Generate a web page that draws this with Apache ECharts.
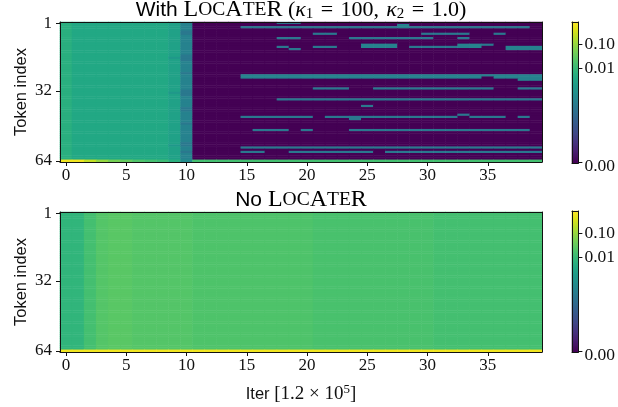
<!DOCTYPE html>
<html><head><meta charset="utf-8">
<script src="https://cdn.jsdelivr.net/npm/echarts@6/dist/echarts.min.js"></script>
<style>html,body{margin:0;padding:0;background:#fff}#c{width:618px;height:407px}</style>
</head><body><div id="c"></div>
<script>
// ---------- data ----------
const iterCats = ['0','1','2','3','4','5','6','7','8','9','10','11','12','13','14','15','16','17','18','19',
  '20','21','22','23','24','25','26','27','28','29','30','31','32','33','34','35','36','37','38','39'];
const xTickLabels = ['0','5','10','15','20','25','30','35'];
const tokenCats = []; for (let i = 1; i <= 64; i++) tokenCats.push(String(i));
const yTickLabels = ['1','32','64'];
const cbTickValues = [0, 0.01, 0.1];
const cbTickLabels = ['0.00','0.01','0.10'];

// level codes: '0' = 0, otherwise value of the level
const levelCodes  = ['a','b','c','d','e','f','g','h','i','j','k','K','l','L','m','n','o','p','q','r'];
const levelValues = [0.00013,0.00026,0.00045,0.00077,0.0015,0.0026,0.0039,0.0058,0.0081,0.0114,0.015,0.0171,0.0195,0.0223,0.0255,0.033,0.05,0.098,0.25,0.65];

// With LocAteR: one string per token row (cols 0..39), trailing zeros omitted
const topRows = [
"hggggggggfc0000000bb",
"hggggggggfc00000000000000000c",
"hggggggggfc0000bbbbbbbbbbbbbcbbbbbbbbbb",
"hggggggggfc",
"hggggggggfb",
"hggggggggfb0000000000bb0000000bbbb00b",
"hggggggggfc",
"hggggggggfc0000000bb0000bbbbbbb00b",
"hggggggggfc",
"hggggggggfc",
"hggggggggfc00000000000000ccc00000ccb",
"hggggggggfc0000000b00bb00ccc0bbbbcc00ccc",
"hggggggggfc00000000b00000000000000000ccc",
"hggggggggfc",
"hggggggggfc",
"hggggggggfb",
"hggggggggeb",
"hggggggggfb",
"hggggggggfc",
"hggggggggfc",
"hggggggggfc",
"hggggggggfc",
"hggggggggfc",
"hggggggggfb",
"hggggggggfc0000ccccccccccccccccccccccccccc",
"hggggggggfc0000cccccccccccccccccccc0cccccc",
"hggggggggfc000000000000000000000000000cccc",
"hggggggggfc",
"hggggggggfc",
"hggggggggfc",
"hggggggggfc0000000000bbb00bbbbbbbbbb00bbbb",
"hggggggggfb",
"hggggggggeb",
"hggggggggfb",
"hggggggggfc",
"hggggggggfc0000000bbbbbbbbbbbbbbbbbbbbbbbbbb",
"hggggggggfc",
"hggggggggfc",
"hggggggggfc00000000000000b",
"hggggggggfb",
"hggggggggfb",
"hggggggggfc",
"hggggggggfc0000000000000000000000b",
"hggggggggfc0000bbbbbb0bbbbbbbbbbb0bbb0b",
"hggggggggfc0000000000000b",
"hggggggggfc",
"hggggggggfb",
"hggggggggfc",
"hggggggggfc",
"hggggggggfc00000bbb0b000bbbbbbbbbbbbbbb",
"hggggggggfc",
"hggggggggfc",
"hggggggggfc",
"hggggggggfc",
"hggggggggfc",
"hggggggggfb",
"hggggggggeb",
"hggggggggfc0000bbbbbbbbbbbbbbbbbbbbbbbbbbbbb",
"hggggggggfc",
"hggggggggfb0000bb00bbbbbbb0bbbbbbbbbbbbbbbb",
"hggggggggfc",
"hggggggggfc",
"hggggggggfc",
"rrqponlkjhdkkkkkkkkkkkkkkkkkkkkkkkkkkkkkkkk"
];

// No LocAteR: rows 1..63 read as the same profile, row 64 bright
const bottomRows = [];
const bottomProfile = "iikLmmLLLLLllllllllllKKKKKKKKKKkkkkkkkkk";
const bottomLastRow = "rrrrrrrrrrrrrrrrrrrrrrrrrrrrrrrrrrrrrrrr";
for (let r = 0; r < 63; r++) bottomRows.push(bottomProfile);
bottomRows.push(bottomLastRow);

// ---------- colour norm (symlog-like) ----------
const LT = 1.55e-5, LINP = 0.19, DEC = 0.171;
function norm(v) {
  if (v <= 0) return 0;
  const p = v < LT ? LINP * v / LT : LINP + DEC * Math.log10(v / LT);
  return Math.min(1, p);
}
function codeValue(ch) {
  const k = levelCodes.indexOf(ch);
  return k < 0 ? 0 : levelValues[k];
}
function build(rows) {
  const out = [];
  rows.forEach((s, r) => {
    const full = s.padEnd(iterCats.length, '0');
    for (let c = 0; c < iterCats.length; c++) {
      const v = codeValue(full[c]);
      out.push([c, r, norm(v), v]);
    }
  });
  return out;
}
const topData = build(topRows);
const bottomData = build(bottomRows);

const cbN = 141;
const cbCats = []; const cbData = [];
for (let i = 0; i < cbN; i++) { cbCats.push(String(i)); cbData.push([0, i, (i + 0.5) / cbN]); }
const cbTickIdx = cbTickValues.map(v => Math.min(cbN - 1, Math.floor(norm(v) * cbN)));

const viridis = ['#440154','#471365','#482475','#463480','#414487','#3b528b','#355f8d','#2f6c8e','#2a788e','#25848e',
  '#21918c','#1e9c89','#22a884','#2fb47c','#44bf70','#5ec962','#7ad151','#9bd93c','#bddf26','#dfe318','#fde725'];

// ---------- styles ----------
const SERIF = 'Liberation Serif';
const SANS = 'Liberation Sans';
const INK = '#111';
const lineS = { show: true, lineStyle: { color: INK, width: 1 } };
const xTickIdx = xTickLabels.map(l => iterCats.indexOf(l));
const yTickIdx = yTickLabels.map(l => tokenCats.indexOf(l));

function mainX(grid) {
  return {
    type: 'category', gridIndex: grid, data: iterCats, position: 'bottom', z: 5,
    axisLine: lineS,
    axisTick: { show: true, alignWithLabel: true, length: 4, interval: i => xTickIdx.includes(i), lineStyle: { color: INK } },
    axisLabel: { interval: i => xTickIdx.includes(i), fontFamily: SERIF, fontSize: 17, color: INK, margin: 5 },
    splitLine: { show: false }
  };
}
function mainY(grid) {
  return {
    type: 'category', gridIndex: grid, data: tokenCats, inverse: true, position: 'left', z: 5,
    axisLine: lineS,
    axisTick: { show: true, alignWithLabel: true, length: 4, interval: i => yTickIdx.includes(i), lineStyle: { color: INK } },
    axisLabel: { interval: i => yTickIdx.includes(i), fontFamily: SERIF, fontSize: 17, color: INK, margin: 8 },
    name: 'Token index', nameLocation: 'middle', nameGap: 30, nameRotate: 90, nameMoveOverlap: false,
    nameTextStyle: { fontFamily: SANS, fontSize: 16.5, color: INK },
    splitLine: { show: false }
  };
}
function frame(grid, pos, data, inverse) {
  return {
    type: 'category', gridIndex: grid, data: data, position: pos, inverse: !!inverse, z: 5,
    axisLine: lineS, axisTick: { show: false }, axisLabel: { show: false }, splitLine: { show: false }
  };
}
function cbRight(grid) {
  return {
    type: 'category', gridIndex: grid, data: cbCats, position: 'right', z: 5,
    axisLine: lineS,
    axisTick: { show: true, alignWithLabel: true, length: 4, interval: i => cbTickIdx.includes(i), lineStyle: { color: INK } },
    axisLabel: {
      interval: i => cbTickIdx.includes(i), margin: 6,
      formatter: (v, i) => { const k = cbTickIdx.indexOf(i); return k === 0 ? '{lo|' + cbTickLabels[k] + '}' : cbTickLabels[k]; },
      fontFamily: SERIF, fontSize: 17.5, color: INK,
      rich: { lo: { fontFamily: SERIF, fontSize: 17.5, color: INK, padding: [8, 0, 0, 0] } }
    },
    splitLine: { show: false }
  };
}

const xb = mainX(1);
xb.name = '{s|Iter }{m|[1.2 × 10}{sup|5}{m|]}';
xb.nameLocation = 'middle';
xb.nameGap = 31;
xb.nameMoveOverlap = false;
xb.nameTextStyle = { rich: {
  s: { fontFamily: SANS, fontSize: 16.5, color: INK },
  m: { fontFamily: SERIF, fontSize: 19, color: INK },
  sup: { fontFamily: SERIF, fontSize: 13, color: INK, padding: [0, 0, 10, 0] }
}};

const titleRich = {
  s: { fontFamily: SANS, fontSize: 21, color: INK },
  c: { fontFamily: SERIF, fontSize: 24, color: INK },
  sc: { fontFamily: SERIF, fontSize: 19.5, color: INK },
  m: { fontFamily: SERIF, fontSize: 22, color: INK },
  mi: { fontFamily: SERIF, fontSize: 22, fontStyle: 'italic', color: INK },
  sub: { fontFamily: SERIF, fontSize: 15, color: INK, padding: [9, 0, 0, 0] }
};
const locater = '{c|L}{sc|OC}{c|A}{sc|TE}{c|R}';
const SP = '\u2004';

const option = {
  animation: false,
  backgroundColor: '#fff',
  grid: [
    { left: 60, top: 22, width: 482, height: 140 },
    { left: 60, top: 212, width: 482, height: 140 },
    { left: 572, top: 22, width: 7, height: 141 },
    { left: 572, top: 211, width: 7, height: 141 }
  ],
  xAxis: [
    mainX(0), xb,
    frame(0, 'top', iterCats), frame(1, 'top', iterCats),
    frame(2, 'bottom', ['c']), frame(2, 'top', ['c']),
    frame(3, 'bottom', ['c']), frame(3, 'top', ['c'])
  ],
  yAxis: [
    mainY(0), mainY(1),
    frame(0, 'right', tokenCats, true), frame(1, 'right', tokenCats, true),
    frame(2, 'left', cbCats), cbRight(2),
    frame(3, 'left', cbCats), cbRight(3)
  ],
  visualMap: {
    type: 'continuous', show: false, min: 0, max: 1, dimension: 2,
    seriesIndex: [0, 1, 2, 3], inRange: { color: viridis }
  },
  series: [
    { type: 'heatmap', xAxisIndex: 0, yAxisIndex: 0, data: topData, progressive: 0, emphasis: { disabled: true } },
    { type: 'heatmap', xAxisIndex: 1, yAxisIndex: 1, data: bottomData, progressive: 0, emphasis: { disabled: true } },
    { type: 'heatmap', xAxisIndex: 4, yAxisIndex: 4, data: cbData, progressive: 0, emphasis: { disabled: true } },
    { type: 'heatmap', xAxisIndex: 6, yAxisIndex: 6, data: cbData, progressive: 0, emphasis: { disabled: true } }
  ],
  graphic: [
    { type: 'text', x: 301, y: 10, style: {
        text: '{s|With }' + locater + '{m| (}{mi|κ}{sub|1}{m|' + SP + '=' + SP + '100,' + SP + '}{mi|κ}{sub|2}{m|' + SP + '=' + SP + '1.0)}',
        rich: titleRich, align: 'center', verticalAlign: 'middle' } },
    { type: 'text', x: 301, y: 200, style: {
        text: '{s|No }' + locater,
        rich: titleRich, align: 'center', verticalAlign: 'middle' } }
  ]
};

const chart = echarts.init(document.getElementById('c'), null, { renderer: 'canvas' });
chart.setOption(option);
</script>
</body></html>
